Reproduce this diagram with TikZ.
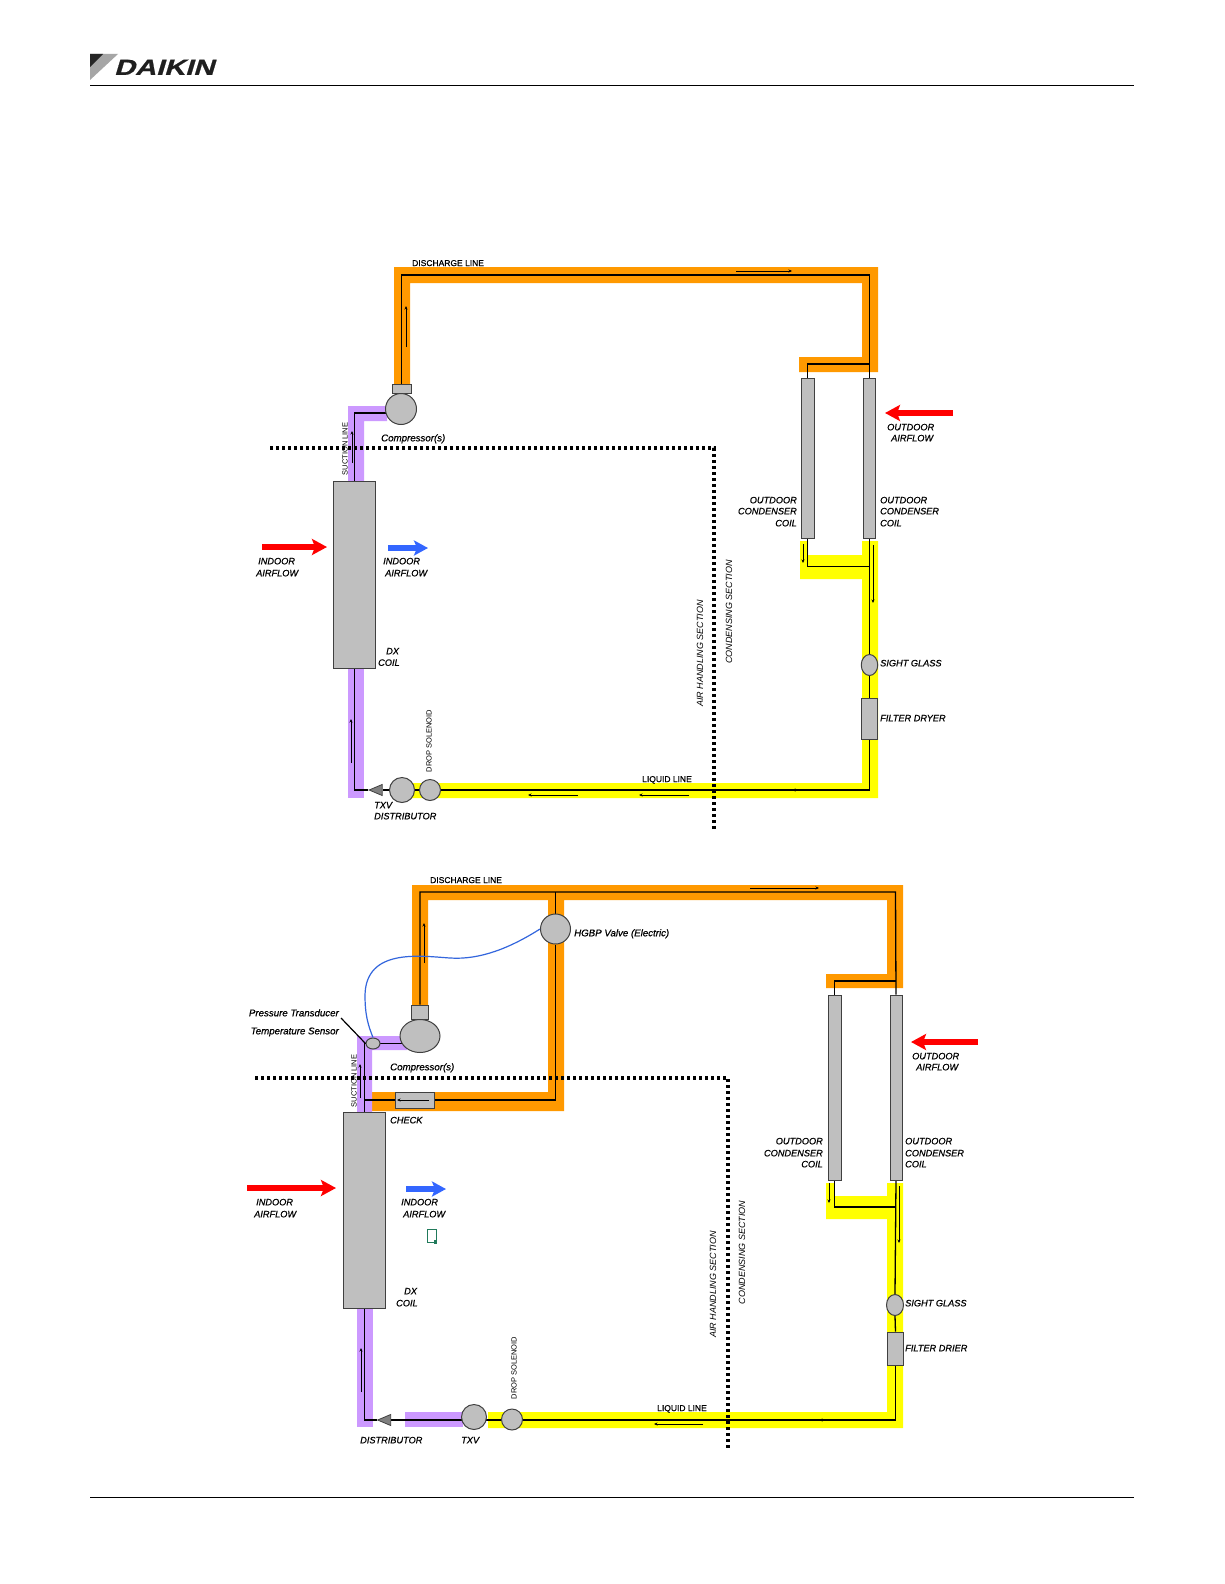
\documentclass[tikz,border=0pt]{standalone}
\usepackage{fontspec}
\setmainfont{Liberation Sans}
\usetikzlibrary{arrows.meta,shapes.geometric,backgrounds}
\newfontfamily\labi[ItalicFeatures={FakeBold=0.7},BoldFeatures={}]{Liberation Sans}
\newfontfamily\labu[FakeBold=0.8]{Liberation Sans}
\newfontfamily\logofont[FakeStretch=1.32,FakeSlant=0.3,FakeBold=0.9]{Liberation Sans Bold}
\definecolor{pipeorange}{HTML}{FF9900}
\definecolor{pipepurple}{HTML}{CC99FF}
\definecolor{pipeyellow}{HTML}{FFFF00}
\definecolor{unitgray}{HTML}{BFBFBF}
\definecolor{unitedge}{HTML}{404040}
\definecolor{airblue}{HTML}{3366FF}
\definecolor{wireblue}{HTML}{3366DD}
\definecolor{icongreen}{HTML}{217A5B}
\tikzset{
  unitbox/.style={draw=unitedge,fill=unitgray,line width=1,inner sep=0,rectangle},
  unitround/.style={draw=unitedge,fill=unitgray,line width=1,inner sep=0,ellipse},
  distshape/.style={draw=unitedge,fill=gray,line width=0.8,inner sep=0,isosceles triangle,isosceles triangle stretches,shape border rotate=180,minimum width=11,minimum height=13},
  pipeline/.style={draw=black,line width=1.3},
  flowtip/.style={draw=black,line width=0.6,-{Stealth[length=3.5,width=3]}},
  airred/.style={draw=red,line width=6,-{Stealth[length=15,width=16,inset=3]}},
  airblueflow/.style={draw=airblue,line width=6,-{Stealth[length=14,width=15,inset=3]}},
  sectionline/.style={draw=black,line width=3.4,dash pattern=on 3.4pt off 2.6pt},
  labit/.style={inner sep=0,font=\labi\itshape\fontsize{9.2}{11}\selectfont,text height=6.6,text depth=0},
  labmixed/.style={inner sep=0,font=\labi\itshape\fontsize{9.7}{11}\selectfont,text height=6.6,text depth=0},
  labplain/.style={inner sep=0,font=\labu\fontsize{8.5}{10}\selectfont,text height=6.1,text depth=0},
  labsec/.style={inner sep=0,rotate=90,font=\itshape\fontsize{9}{11}\selectfont,text height=6.4,text depth=0},
  labsmall/.style={inner sep=0,rotate=90,font=\fontsize{7.5}{9}\selectfont,text height=5.4,text depth=0},
  rule/.style={draw=black,line width=1},
}
\newcommand\flowarrow[3]{\coordinate (#1a) at (#2); \coordinate (#1b) at (#3); \draw[flowtip] (#1a) -- (#1b);}
\begin{document}
\begin{tikzpicture}[x=1pt,y=-1pt]
\useasboundingbox (0,0) rectangle (1224,1584);

% header / footer
\fill[gray!70] (90,54) -- (118,54) -- (90,80) -- cycle;
\fill[black!85] (90,54) -- (103,54) -- (90,67) -- cycle;
\node[inner sep=0,anchor=center,text=black!88,font=\logofont\fontsize{22}{24}\selectfont,text height=15.8,text depth=0] (logo) at (164,67) {DAIKIN};
\coordinate (hdrL) at (90,86); \coordinate (hdrR) at (1134,86);
\coordinate (ftrL) at (90,1497); \coordinate (ftrR) at (1134,1497);
\draw[rule] (hdrL) -- (hdrR);
\draw[rule] (ftrL) -- (ftrR);

% ===== TOP DIAGRAM components =====
\node[unitbox,minimum width=19,minimum height=9] (stT) at (401.5,388.5) {};
\node[unitround,minimum width=31,minimum height=31] (compT) at (401,409) {};
\node[unitbox,minimum width=41.5,minimum height=187] (dxT) at (354.5,574.5) {};
\node[unitbox,minimum width=13,minimum height=160] (lcT) at (807.5,458) {};
\node[unitbox,minimum width=12,minimum height=160] (rcT) at (869.5,458) {};
\node[unitround,minimum width=16.5,minimum height=21] (sgT) at (869.5,665) {};
\node[unitbox,minimum width=16,minimum height=41] (fdT) at (869.5,718.5) {};
\node[unitround,minimum width=21,minimum height=21] (solT) at (430,790) {};
\node[unitround,minimum width=25,minimum height=25] (txvT) at (402,790) {};
\node[distshape] (distT) at (378.5,790) {};

% ===== BOTTOM DIAGRAM components =====
\node[unitbox,minimum width=17,minimum height=14] (stB) at (420,1012) {};
\node[unitround,minimum width=40,minimum height=33] (compB) at (420,1036) {};
\node[unitround,minimum width=14,minimum height=11] (senB) at (373,1043.5) {};
\node[unitround,minimum width=30,minimum height=30] (hgbpB) at (555.5,929) {};
\node[unitbox,minimum width=39,minimum height=16] (chkB) at (414.5,1100) {};
\node[unitbox,minimum width=42,minimum height=196] (dxB) at (364.5,1210) {};
\node[unitbox,minimum width=13,minimum height=185] (lcB) at (834.5,1087.5) {};
\node[unitbox,minimum width=12,minimum height=185] (rcB) at (896,1087.5) {};
\node[unitround,minimum width=17,minimum height=21] (sgB) at (895,1305) {};
\node[unitbox,minimum width=16,minimum height=33] (fdB) at (895.5,1348.5) {};
\node[unitround,minimum width=21,minimum height=21] (solB) at (512,1419.5) {};
\node[unitround,minimum width=25,minimum height=25] (txvB) at (474,1417) {};
\node[distshape] (distB) at (387,1420) {};

\begin{pgfonlayer}{background}
\fill[white] (0,0) rectangle (1224,1584);
% ----- bands, top
\fill[pipeorange] (394,267) -- (878,267) -- (878,372) -- (799,372) -- (799,357) -- (862,357) -- (862,283) -- (410,283) -- (410,386) -- (394,386) -- cycle;
\fill[pipepurple] (348,406) -- (387,406) -- (387,421) -- (364,421) -- (364,481) -- (348,481) -- cycle;
\fill[pipepurple] (348,668) -- (364,668) -- (364,798) -- (348,798) -- cycle;
\fill[pipeyellow] (800,541) -- (808,541) -- (808,555) -- (862,555) -- (862,541) -- (878,541) -- (878,798) -- (412,798) -- (412,783) -- (862,783) -- (862,579) -- (800,579) -- cycle;
% ----- bands, bottom
\fill[pipeorange] (412,885) -- (903,885) -- (903,988) -- (826,988) -- (826,974) -- (887,974) -- (887,900) -- (564,900) -- (564,1111) -- (372,1111) -- (372,1092) -- (548,1092) -- (548,900) -- (428,900) -- (428,1006) -- (412,1006) -- cycle;
\fill[pipepurple] (357,1036) -- (407,1036) -- (407,1050) -- (372,1050) -- (372,1112) -- (357,1112) -- cycle;
\fill[pipepurple] (357,1308) -- (373,1308) -- (373,1427) -- (357,1427) -- cycle;
\fill[pipepurple] (405,1412) -- (463,1412) -- (463,1427) -- (405,1427) -- cycle;
\fill[pipeyellow] (826,1183) -- (834,1183) -- (834,1196) -- (887,1196) -- (887,1183) -- (903,1183) -- (903,1428) -- (488,1428) -- (488,1412) -- (887,1412) -- (887,1219) -- (826,1219) -- cycle;
% ----- pipes, top
\coordinate (tdTR) at (869.5,275);
\coordinate (jcT) at (869.5,364);
\coordinate (jyT) at (869.5,566.5);
\draw[pipeline,line join=miter] (stT.north) |- (tdTR) -- (rcT.north);
\draw[pipeline] (lcT.north) |- (jcT);
\draw[pipeline] (lcT.south) |- (jyT);
\draw[pipeline] (rcT.south) -- (sgT.north);
\draw[pipeline] (sgT.south) -- (fdT.north);
\draw[pipeline] (fdT.south) |- (solT.east);
\draw[pipeline] (solT.west) -- (txvT.east);
\draw[pipeline] (txvT.west) -- (distT.lower side);
\draw[pipeline] (distT.apex) -| (dxT.south);
\draw[pipeline] (dxT.north) |- (compT.195);
% ----- pipes, bottom
\coordinate (tdBR) at (895.5,892);
\coordinate (jcB) at (895.5,981);
\coordinate (jyB) at (895.5,1207);
\coordinate (cuB) at (364.5,1100);
\draw[pipeline] (stB.north) |- (tdBR) -- (rcB.north);
\draw[pipeline] (lcB.north) |- (jcB);
\draw[pipeline] (lcB.south) |- (jyB);
\draw[pipeline] (rcB.south) -- (sgB.north);
\draw[pipeline] (sgB.south) -- (fdB.north);
\draw[pipeline] (fdB.south) |- (distB.lower side);
\draw[pipeline] (distB.apex) -| (dxB.south);
\draw[pipeline] (hgbpB.north) -- (hgbpB.north |- tdBR);
\draw[pipeline] (hgbpB.south) |- (chkB.east);
\draw[pipeline] (chkB.west) -- (cuB);
\draw[pipeline] (dxB.north) |- (senB.center);
\draw[pipeline] (senB.center) -- (senB.center -| compB.center);
\end{pgfonlayer}

% ----- small flow arrows
\flowarrow{fa}{406,347}{406,306}
\flowarrow{fb}{736,271}{792,271}
\flowarrow{fc}{352,463}{352,431}
\flowarrow{fd}{351,763}{351,719}
\flowarrow{fe}{578,795}{528,795}
\flowarrow{ff}{689,795}{639,795}
\flowarrow{fg}{796,790}{792,790}
\flowarrow{fh}{803,544}{803,563}
\flowarrow{fi}{873,545}{873,603}
\flowarrow{ga}{424,963}{424,923}
\flowarrow{gb}{750,888}{819,888}
\flowarrow{gc}{429,1100}{397,1100}
\flowarrow{gd}{360,1098}{360,1064}
\flowarrow{ge}{361,1392}{361,1348}
\flowarrow{gf}{703,1424}{654,1424}
\flowarrow{gg}{823,1420}{819,1420}
\flowarrow{gh}{829,1183}{829,1203}
\flowarrow{gi}{899,1186}{899,1243}

% ----- air arrows
\coordinate (arT1) at (262,547); \coordinate (arT2) at (327,547);
\draw[airred] (arT1) -- (arT2);
\coordinate (abT1) at (388,548); \coordinate (abT2) at (428,548);
\draw[airblueflow] (abT1) -- (abT2);
\coordinate (aoT1) at (953,413); \coordinate (aoT2) at (885,413);
\draw[airred] (aoT1) -- (aoT2);
\coordinate (arB1) at (247,1188); \coordinate (arB2) at (336,1188);
\draw[airred] (arB1) -- (arB2);
\coordinate (abB1) at (406,1189); \coordinate (abB2) at (446,1189);
\draw[airblueflow] (abB1) -- (abB2);
\coordinate (aoB1) at (978,1042); \coordinate (aoB2) at (911,1042);
\draw[airred] (aoB1) -- (aoB2);

% ----- section lines
\coordinate (secTa) at (270,448); \coordinate (secTb) at (714,448); \coordinate (secTc) at (714,831);
\draw[sectionline] (secTa) -- (secTb) -- (secTc);
\coordinate (secBa) at (255,1078); \coordinate (secBb) at (728,1078); \coordinate (secBc) at (728,1449);
\draw[sectionline] (secBa) -- (secBb) -- (secBc);

% ----- wire and pointer
\draw[wireblue,line width=1.2] (hgbpB.west) .. controls (510,948) and (480,960) .. (450,958) .. controls (420,956) and (366,948) .. (365,995) .. controls (365,1015) and (368,1025) .. (senB.north);
\coordinate (ptr) at (341,1018);
\draw[black,line width=1.2] (ptr) -- (senB.west);

% ----- icon
\node[draw=icongreen,line width=1,inner sep=0,minimum width=9,minimum height=13] (icon) at (431.5,1235.5) {};
\node[fill=icongreen,inner sep=0,minimum width=3.5,minimum height=3.5] (iconmark) at (435.5,1242) {};

% ----- labels, top
\node[labplain,anchor=west] (l1) at (412,263) {DISCHARGE LINE};
\node[labmixed,anchor=west] (l2) at (381,438) {Compressor(s)};
\node[labsmall] (l3) at (345,449) {SUCTION LINE};
\node[labit,anchor=west] (l4) at (258,561) {INDOOR};
\node[labit,anchor=west] (l5) at (256,573) {AIRFLOW};
\node[labit,anchor=west] (l6) at (383,561) {INDOOR};
\node[labit,anchor=west] (l7) at (385,573) {AIRFLOW};
\node[labit,anchor=west] (l8) at (386,651) {DX};
\node[labit,anchor=west] (l9) at (378,662.5) {COIL};
\node[labit,anchor=west] (l10) at (887,427) {OUTDOOR};
\node[labit,anchor=west] (l11) at (891,438) {AIRFLOW};
\node[labit,anchor=east] (l12) at (797,500) {OUTDOOR};
\node[labit,anchor=east] (l13) at (797,511) {CONDENSER};
\node[labit,anchor=east] (l14) at (797,523) {COIL};
\node[labit,anchor=west] (l15) at (880,500) {OUTDOOR};
\node[labit,anchor=west] (l16) at (880,511) {CONDENSER};
\node[labit,anchor=west] (l17) at (880,523) {COIL};
\node[labit,anchor=west] (l18) at (880,663) {SIGHT GLASS};
\node[labit,anchor=west] (l19) at (880,718) {FILTER DRYER};
\node[labsec] (l20) at (700,653.5) {AIR HANDLING SECTION};
\node[labsec] (l21) at (729,612) {CONDENSING SECTION};
\node[labsmall] (l22) at (429,741) {DROP SOLENOID};
\node[labplain,anchor=west] (l23) at (642,779) {LIQUID LINE};
\node[labit,anchor=west] (l24) at (374,805) {TXV};
\node[labit,anchor=west] (l25) at (374,816) {DISTRIBUTOR};

% ----- labels, bottom
\node[labplain,anchor=west] (m1) at (430,880) {DISCHARGE LINE};
\node[labmixed,anchor=west] (m2) at (574,933) {HGBP Valve (Electric)};
\node[labmixed,anchor=east] (m3) at (339,1013) {Pressure Transducer};
\node[labmixed,anchor=east] (m4) at (339,1031) {Temperature Sensor};
\node[labmixed,anchor=west] (m5) at (390,1067) {Compressor(s)};
\node[labsmall] (m6) at (354,1081) {SUCTION LINE};
\node[labit,anchor=west] (m7) at (390,1120) {CHECK};
\node[labit,anchor=west] (m8) at (256,1202) {INDOOR};
\node[labit,anchor=west] (m9) at (254,1214) {AIRFLOW};
\node[labit,anchor=west] (m10) at (401,1202) {INDOOR};
\node[labit,anchor=west] (m11) at (403,1214) {AIRFLOW};
\node[labit,anchor=west] (m12) at (404,1291) {DX};
\node[labit,anchor=west] (m13) at (396,1303) {COIL};
\node[labit,anchor=west] (m14) at (912,1056) {OUTDOOR};
\node[labit,anchor=west] (m15) at (916,1067) {AIRFLOW};
\node[labit,anchor=east] (m16) at (823,1141) {OUTDOOR};
\node[labit,anchor=east] (m17) at (823,1153) {CONDENSER};
\node[labit,anchor=east] (m18) at (823,1164) {COIL};
\node[labit,anchor=west] (m19) at (905,1141) {OUTDOOR};
\node[labit,anchor=west] (m20) at (905,1153) {CONDENSER};
\node[labit,anchor=west] (m21) at (905,1164) {COIL};
\node[labit,anchor=west] (m22) at (905,1303) {SIGHT GLASS};
\node[labit,anchor=west] (m23) at (905,1348) {FILTER DRIER};
\node[labsec] (m24) at (713,1284.5) {AIR HANDLING SECTION};
\node[labsec] (m25) at (742,1252.5) {CONDENSING SECTION};
\node[labsmall] (m26) at (514,1368) {DROP SOLENOID};
\node[labplain,anchor=west] (m27) at (657,1408) {LIQUID LINE};
\node[labit,anchor=west] (m28) at (360,1440) {DISTRIBUTOR};
\node[labit,anchor=west] (m29) at (461,1440) {TXV};
\end{tikzpicture}
\end{document}
